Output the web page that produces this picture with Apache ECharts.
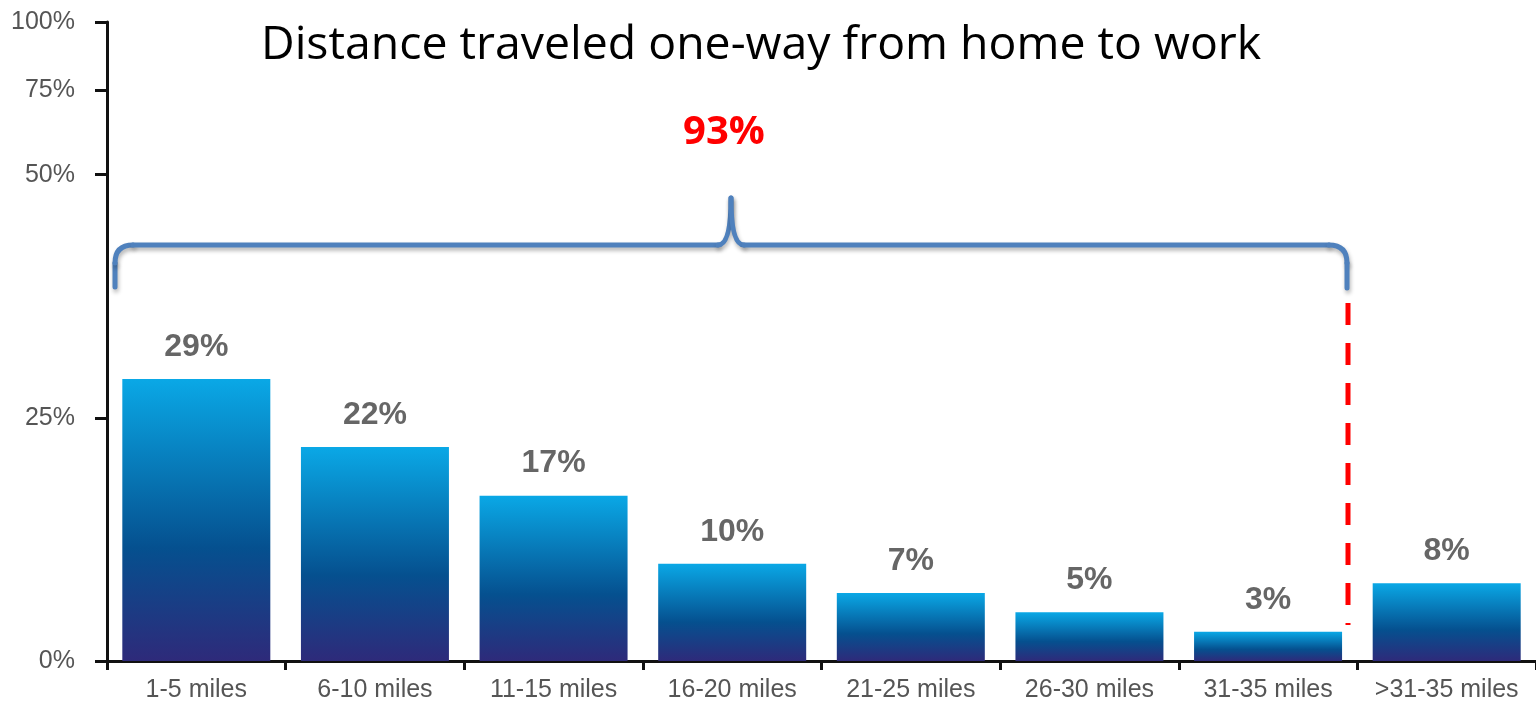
<!DOCTYPE html>
<html>
<head>
<meta charset="utf-8">
<title>Distance traveled one-way from home to work</title>
<script src="https://cdn.jsdelivr.net/npm/echarts@6/dist/echarts.min.js"></script>
<style>
  html, body { margin: 0; padding: 0; background: #fff; }
  #chart { width: 1536px; height: 703px; }
</style>
</head>
<body>
<div id="chart"></div>
<script>
// data
const categories = ['1-5 miles', '6-10 miles', '11-15 miles', '16-20 miles',
  '21-25 miles', '26-30 miles', '31-35 miles', '>31-35 miles'];
const shares = [29, 22, 17, 10, 7, 5, 3, 8];
// the y axis is squeezed above 50%: where each tick sits on the linear scale
const yTickValues = [0, 25, 50, 58.7, 65.7];
const yTickLabels = ['0%', '25%', '50%', '75%', '100%'];
const bracketLabel = '93%';

const chart = echarts.init(document.getElementById('chart'));

const barColor = {
  type: 'linear', x: 0, y: 0, x2: 0, y2: 1,
  colorStops: [
    { offset: 0, color: '#0aa8e6' },
    { offset: 0.6, color: '#05508f' },
    { offset: 1, color: '#2e2a7a' }
  ]
};

// brace annotation, drawn piece by piece
const braceStyle = {
  fill: null,
  stroke: '#4f81bd',
  lineWidth: 5,
  lineCap: 'round',
  shadowBlur: 4,
  shadowOffsetX: 1,
  shadowOffsetY: 3,
  shadowColor: 'rgba(0,0,0,0.3)'
};
function seg(x1, y1, x2, y2) {
  return { type: 'line', shape: { x1, y1, x2, y2 }, style: braceStyle };
}
function curve(x1, y1, cpx1, cpy1, x2, y2) {
  return { type: 'bezierCurve', shape: { x1, y1, cpx1, cpy1, x2, y2 }, style: braceStyle };
}
const brace = [
  seg(115, 287, 115, 263),
  curve(115, 263, 115, 245, 133, 245),
  seg(133, 245, 718, 245),
  curve(718, 245, 731, 245, 731, 198),
  curve(731, 198, 731, 245, 744, 245),
  seg(744, 245, 1329, 245),
  curve(1329, 245, 1347, 245, 1347, 263),
  seg(1347, 263, 1347, 288)
];

chart.setOption({
  animation: false,
  title: {
    text: 'Distance traveled one-way from home to work',
    left: 256,
    top: 18,
    textStyle: {
      fontFamily: 'Open Sans',
      fontWeight: 'normal',
      fontSize: 46.4,
      color: '#000'
    }
  },
  grid: {
    left: 107,
    right: 0,
    top: 22,
    bottom: 42,
    containLabel: false
  },
  xAxis: {
    type: 'category',
    data: categories,
    axisLine: { lineStyle: { color: '#111', width: 3 } },
    axisTick: { show: true, alignWithLabel: false, length: 9, lineStyle: { color: '#111', width: 3 } },
    axisLabel: {
      margin: 17,
      fontFamily: 'Liberation Sans',
      fontSize: 25,
      color: '#555',
      interval: 0
    }
  },
  yAxis: {
    type: 'value',
    min: 0,
    max: 65.7,
    splitLine: { show: false },
    axisLine: { show: true, lineStyle: { color: '#111', width: 3 } },
    axisTick: {
      show: true,
      length: 12,
      customValues: yTickValues,
      lineStyle: { color: '#111', width: 3 }
    },
    axisLabel: {
      margin: 32,
      customValues: yTickValues,
      fontFamily: 'Liberation Sans',
      fontSize: 25,
      color: '#555',
      formatter: function (val) {
        const i = yTickValues.indexOf(val);
        return i >= 0 ? yTickLabels[i] : '';
      }
    }
  },
  series: [{
    type: 'bar',
    data: shares,
    barWidth: 148,
    itemStyle: { color: barColor },
    label: {
      show: true,
      position: 'top',
      distance: 16,
      formatter: '{c}%',
      fontFamily: 'Liberation Sans',
      fontWeight: 'bold',
      fontSize: 32,
      color: '#666'
    }
  }],
  graphic: brace.concat([
    {
      type: 'line',
      shape: { x1: 1348, y1: 303, x2: 1348, y2: 625 },
      style: { stroke: '#ff0000', lineWidth: 5, lineDash: [22, 18] }
    },
    {
      type: 'text',
      x: 724,
      y: 133,
      style: {
        text: bracketLabel,
        align: 'center',
        verticalAlign: 'middle',
        fontFamily: 'Open Sans',
        fontWeight: 'bold',
        fontSize: 40,
        fill: '#ff0000'
      }
    }
  ])
});
</script>
</body>
</html>
